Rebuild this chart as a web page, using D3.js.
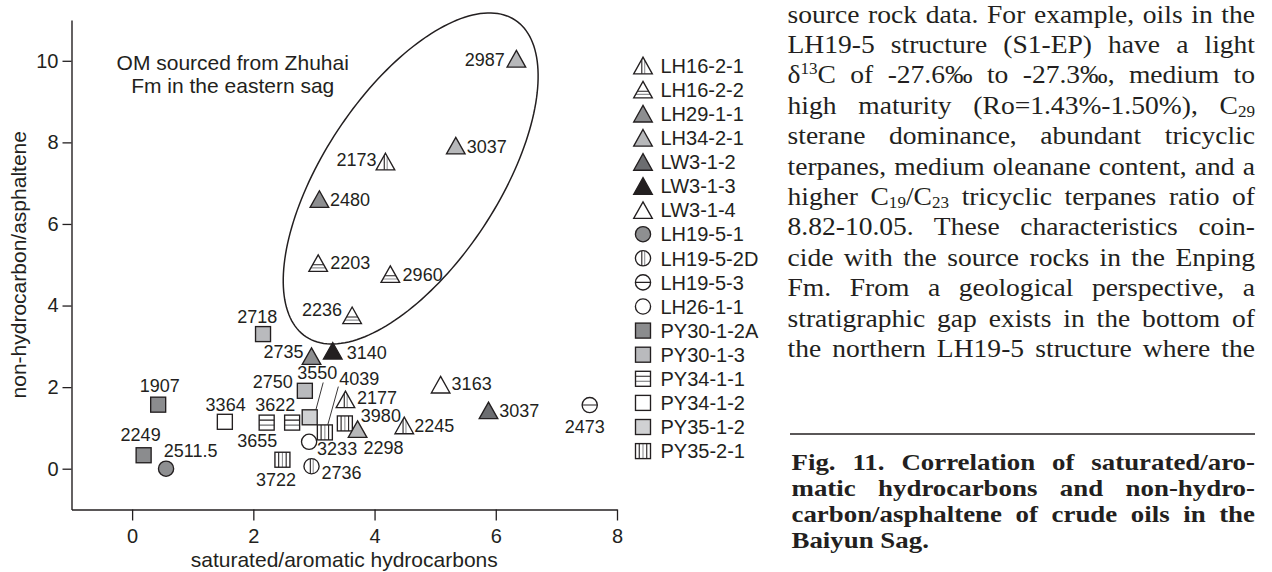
<!DOCTYPE html>
<html>
<head>
<meta charset="utf-8">
<script src="https://cdn.jsdelivr.net/npm/d3@7"></script>
<style>
  html, body { margin: 0; padding: 0; background: #fff; }
  svg { display: block; }
</style>
</head>
<body>
<svg id="fig" width="1272" height="572"></svg>
<script>
// ---- Legend: wells, their marker shape, fill and hatching ----
const wells      = ["LH16-2-1","LH16-2-2","LH29-1-1","LH34-2-1","LW3-1-2","LW3-1-3","LW3-1-4",
                    "LH19-5-1","LH19-5-2D","LH19-5-3","LH26-1-1",
                    "PY30-1-2A","PY30-1-3","PY34-1-1","PY34-1-2","PY35-1-2","PY35-2-1"];
const wellShape  = ["tri","tri","tri","tri","tri","tri","tri",
                    "circle","circle","circle","circle",
                    "square","square","square","square","square","square"];
const wellFill   = ["#ffffff","#ffffff","#8d8e90","#b7b8ba","#6c6d70","#231f20","#ffffff",
                    "#8e8f91","#ffffff","#ffffff","#ffffff",
                    "#8b8c8e","#b9babd","#ffffff","#ffffff","#d0d1d3","#ffffff"];
const wellHatch  = ["v2","h2",null,null,null,null,null,
                    null,"v2","h1",null,
                    null,null,"h2",null,null,"v3"];

// ---- Samples: well, depth (m), saturated/aromatic, non-hydrocarbon/asphaltene ----
const sampleWell  = ["LH34-2-1","LH34-2-1","LH16-2-1","LH29-1-1","LH16-2-2","LH16-2-2","LH16-2-2",
                     "LW3-1-3","LH29-1-1","PY30-1-3","PY30-1-3","PY35-1-2","PY35-2-1","LH16-2-1",
                     "PY35-2-1","LH34-2-1","LH16-2-1","LH26-1-1","LH19-5-2D","PY34-1-1","PY34-1-1",
                     "PY34-1-2","PY35-2-1","PY30-1-2A","PY30-1-2A","LH19-5-1","LW3-1-4","LW3-1-2",
                     "LH19-5-3"];
const sampleDepth = ["2987","3037","2173","2480","2203","2960","2236",
                     "3140","2735","2718","2750","3550","4039","2177",
                     "3980","2298","2245","3233","2736","3655","3622",
                     "3364","3722","1907","2249","2511.5","3163","3037",
                     "2473"];
const satAro      = [6.34, 5.34, 4.18, 3.09, 3.07, 4.26, 3.63,
                     3.31, 2.96, 2.16, 2.85, 2.93, 3.18, 3.52,
                     3.51, 3.72, 4.49, 2.92, 2.96, 2.22, 2.64,
                     1.53, 2.48, 0.43, 0.19, 0.56, 5.09, 5.88,
                     7.55];
const nonHydroAsph = [10.05, 7.92, 7.53, 6.61, 5.04, 4.77, 3.76,
                      2.89, 2.76, 3.30, 1.91, 1.26, 0.89, 1.70,
                      1.11, 0.97, 1.06, 0.66, 0.06, 1.13, 1.13,
                      1.15, 0.22, 1.57, 0.33, 0.00, 2.06, 1.43,
                      1.56];

// Depth-label placement around each marker: [anchor, dx, dy] in px
const labelPlace = [["end",-11.5,1],["start",11,1],["end",-9,-2],["start",10.5,0],["start",12,-0.5],
                    ["start",12.3,0],["end",-10,-6],["start",14,1.5],["end",-8,-4.5],["middle",-5.7,-18],
                    ["end",-12,-9],["middle",7.5,-45],["middle",34.5,-54],["start",11.5,-2],["start",16,-7.5],
                    ["middle",26,18],["start",10,0.5],["start",8,7],["start",10,6.5],["middle",-9.5,17.5],
                    ["middle",-16.8,-18.2],["middle",0.8,-17.7],["middle",-6.5,20],["middle",1.5,-19],
                    ["middle",-3,-21],["middle",24.6,-18],["start",11,-1.5],["start",10.7,0],["middle",-5,21.7]];
// Leader lines joining crowded labels to their markers: [sample index, x1, y1, x2, y2] px offsets
const leaders = [[11, 13.5, -34.8, 6.2, -7.5], [12, 13.5, -45.8, 2.9, -7.5]];

// Axes
const xDomain = [-1, 8];
const yDomain = [-1, 11];
const xTicks = [0, 2, 4, 6, 8];
const yTicks = [0, 2, 4, 6, 8, 10];
const xTitle = "saturated/aromatic hydrocarbons";
const yTitle = "non-hydrocarbon/asphaltene";

// Field enclosing oils sourced from the Zhuhai Fm: centre and two conjugate half-axes (data units)
const fieldCentre = [4.596, 7.115];
const fieldAxisA  = [1.724, 3.883];
const fieldAxisB  = [1.204, -1.179];
const fieldNote   = ["OM sourced from Zhuhai", "Fm in the eastern sag"];
const fieldNoteAt = [1.66, 9.77];

// Running text of the page and the figure caption
const bodyLines = [
  "source rock data. For example, oils in the",
  "LH19-5 structure (S1-EP) have a light",
  "δ^{13}C of -27.6‰ to -27.3‰, medium to",
  "high maturity (Ro=1.43%-1.50%), C_{29}",
  "sterane dominance, abundant tricyclic",
  "terpanes, medium oleanane content, and a",
  "higher C_{19}/C_{23} tricyclic terpanes ratio of",
  "8.82-10.05. These characteristics coin-",
  "cide with the source rocks in the Enping",
  "Fm. From a geological perspective, a",
  "stratigraphic gap exists in the bottom of",
  "the northern LH19-5 structure where the"
];
const captionLines = [
  "Fig. 11. Correlation of saturated/aro-",
  "matic hydrocarbons and non-hydro-",
  "carbon/asphaltene of crude oils in the",
  "Baiyun Sag."
];

// ---------------------------------------------------------------------------
const INK = "#231f20";
const SANS = "'Liberation Sans', Arial, Helvetica, sans-serif";
const SERIF = "'Liberation Serif', 'Times New Roman', serif";

const svg = d3.select("#fig");
const x = d3.scaleLinear().domain(xDomain).range([71.5, 617]);
const y = d3.scaleLinear().domain(yDomain).range([509.5, 20]);

// clip shapes for hatched markers
const defs = svg.append("defs");
const TRI = "M0,-8.3L9.3,8.3L-9.3,8.3Z";
defs.append("clipPath").attr("id", "clip-tri").append("path").attr("d", TRI);
defs.append("clipPath").attr("id", "clip-circle").append("circle").attr("r", 7.6);
defs.append("clipPath").attr("id", "clip-square").append("rect")
  .attr("x", -7.5).attr("y", -7.5).attr("width", 15).attr("height", 15);

function drawMarker(g, wi) {
  const shape = wellShape[wi];
  const fill = wellFill[wi];
  const hatch = wellHatch[wi];
  let outline;
  if (shape === "tri") outline = g.append("path").attr("d", TRI);
  else if (shape === "circle") outline = g.append("circle").attr("r", 7.6);
  else outline = g.append("rect").attr("x", -7.5).attr("y", -7.5).attr("width", 15).attr("height", 15);
  outline.attr("fill", fill).attr("stroke", "none");

  if (hatch) {
    const h = g.append("g").attr("clip-path", `url(#clip-${shape})`);
    let lines = [];
    if (hatch === "v2") lines = [[-1.2, "v", INK], [1.7, "v", "#8f9093"]];
    if (hatch === "h2") lines = shape === "tri"
      ? [[1.6, "h", INK], [4.8, "h", "#8f9093"]]
      : [[-2.5, "h", INK], [2.5, "h", "#6d6e71"]];
    if (hatch === "h1") lines = [[0, "h", INK]];
    if (hatch === "v3") lines = [[-3.75, "v", INK], [0, "v", "#8f9093"], [3.75, "v", INK]];
    lines.forEach(([p, dir, c]) => {
      h.append("line")
        .attr("x1", dir === "v" ? p : -10).attr("x2", dir === "v" ? p : 10)
        .attr("y1", dir === "v" ? -10 : p).attr("y2", dir === "v" ? 10 : p)
        .attr("stroke", c).attr("stroke-width", 1.1);
    });
  }
  const edge = outline.clone(true).attr("fill", "none").attr("stroke", INK)
    .attr("stroke-width", 1.35).attr("stroke-linejoin", "miter");
  edge.raise();
}

// ---- axes ----
const xAxis = svg.append("g").attr("transform", `translate(0,${y.range()[0]})`)
  .call(d3.axisBottom(x).tickValues(xTicks).tickSize(11).tickSizeOuter(0).tickPadding(8));
const yAxis = svg.append("g").attr("transform", `translate(${x.range()[0]},0)`)
  .call(d3.axisLeft(y).tickValues(yTicks).tickSize(9).tickSizeOuter(0).tickPadding(4));
[xAxis, yAxis].forEach(a => {
  a.select(".domain").attr("stroke", INK).attr("stroke-width", 1.4);
  a.selectAll(".tick line").attr("stroke", INK).attr("stroke-width", 1.3);
  a.selectAll(".tick text").attr("fill", INK).style("font-family", SANS).style("font-size", "20px");
});

svg.append("text")
  .attr("x", (x.range()[0] + x.range()[1]) / 2).attr("y", 567)
  .attr("text-anchor", "middle").attr("fill", INK)
  .style("font-family", SANS).style("font-size", "21px").text(xTitle);
svg.append("text")
  .attr("transform", `translate(26,${(y.range()[0] + y.range()[1]) / 2}) rotate(-90)`)
  .attr("text-anchor", "middle").attr("fill", INK)
  .style("font-family", SANS).style("font-size", "21px").text(yTitle);

// ---- enclosing field ----
const ring = d3.range(0, 181).map(i => {
  const t = i / 180 * 2 * Math.PI;
  return [fieldCentre[0] + Math.cos(t) * fieldAxisA[0] + Math.sin(t) * fieldAxisB[0],
          fieldCentre[1] + Math.cos(t) * fieldAxisA[1] + Math.sin(t) * fieldAxisB[1]];
});
svg.append("path")
  .attr("d", d3.line().x(d => x(d[0])).y(d => y(d[1])).curve(d3.curveLinearClosed)(ring))
  .attr("fill", "none").attr("stroke", INK).attr("stroke-width", 1.5);

const note = svg.append("text")
  .attr("text-anchor", "middle").attr("fill", INK)
  .style("font-family", SANS).style("font-size", "21px");
fieldNote.forEach((t, i) => note.append("tspan")
  .attr("x", x(fieldNoteAt[0])).attr("y", y(fieldNoteAt[1]) + i * 22.7).text(t));

// ---- samples ----
const wellIndex = name => wells.indexOf(name);
const samples = d3.range(sampleDepth.length);

leaders.forEach(([i, x1, y1, x2, y2]) => {
  const px = x(satAro[i]), py = y(nonHydroAsph[i]);
  svg.append("line")
    .attr("x1", px + x1).attr("y1", py + y1).attr("x2", px + x2).attr("y2", py + y2)
    .attr("stroke", INK).attr("stroke-width", 0.9);
});

const marks = svg.append("g").selectAll("g").data(samples).join("g")
  .attr("transform", i => `translate(${x(satAro[i])},${y(nonHydroAsph[i])})`);
marks.each(function (i) { drawMarker(d3.select(this), wellIndex(sampleWell[i])); });

svg.append("g").selectAll("text").data(samples).join("text")
  .attr("x", i => x(satAro[i]) + labelPlace[i][1])
  .attr("y", i => y(nonHydroAsph[i]) + labelPlace[i][2])
  .attr("dy", "0.36em")
  .attr("text-anchor", i => labelPlace[i][0])
  .attr("fill", INK)
  .style("font-family", SANS).style("font-size", "18px")
  .text(i => sampleDepth[i]);

// ---- legend ----
const legend = svg.append("g").attr("transform", "translate(643,65.5)");
const rows = legend.selectAll("g").data(wells).join("g")
  .attr("transform", (d, i) => `translate(0,${i * 24.1})`);
rows.each(function (d, i) { drawMarker(d3.select(this), i); });
rows.append("text").attr("x", 17.5).attr("dy", "0.36em").attr("fill", INK)
  .style("font-family", SANS).style("font-size", "20px").text(d => d);

// ---- page text (justified, set slightly wide) ----
function richLine(sel, str) {
  const parts = str.split(/(\^\{[^}]*\}|_\{[^}]*\})/).filter(s => s.length);
  let shift = 0;
  parts.forEach(p => {
    let target = 0, txt = p, small = false;
    if (p.startsWith("^{")) { target = -9; txt = p.slice(2, -1); small = true; }
    else if (p.startsWith("_{")) { target = 3.5; txt = p.slice(2, -1); small = true; }
    const ts = sel.append("tspan").attr("dy", target - shift).text(txt);
    if (small) ts.style("font-size", "0.62em");
    shift = target;
  });
}
function justify(sel, width) {
  const node = sel.node();
  const spaces = (node.textContent.match(/ /g) || []).length;
  const natural = node.getComputedTextLength();
  if (spaces && natural < width) sel.attr("word-spacing", (width - natural) / spaces);
}

const bodyLeft = 787.5, bodyRight = 1255, bodyStretch = 1.06;
bodyLines.forEach((line, i) => {
  const t = svg.append("text")
    .attr("transform", `translate(${bodyLeft},${22.5 + i * 30.4}) scale(${bodyStretch},1)`)
    .attr("fill", INK).style("font-family", SERIF).style("font-size", "26px");
  richLine(t, line);
  justify(t, (bodyRight - bodyLeft) / bodyStretch);
});

svg.append("line").attr("x1", 790).attr("x2", bodyRight).attr("y1", 434).attr("y2", 434)
  .attr("stroke", INK).attr("stroke-width", 1.5);

const capLeft = 791.5, capStretch = 1.12;
captionLines.forEach((line, i) => {
  const t = svg.append("text")
    .attr("transform", `translate(${capLeft},${470 + i * 26}) scale(${capStretch},1)`)
    .attr("fill", INK).style("font-family", SERIF).style("font-size", "24px")
    .style("font-weight", "bold").text(line);
  if (i < captionLines.length - 1) justify(t, (bodyRight - capLeft) / capStretch);
});
</script>
</body>
</html>
